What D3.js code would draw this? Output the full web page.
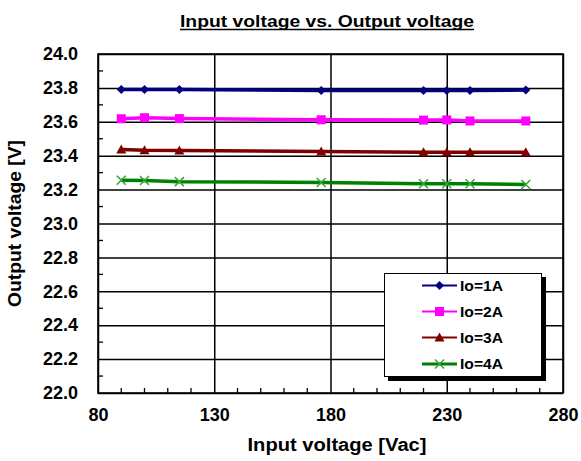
<!DOCTYPE html>
<html><head><meta charset="utf-8">
<script src="https://cdn.jsdelivr.net/npm/d3@7"></script>
<style>
html,body{margin:0;padding:0;background:#fff;}
svg{display:block;font-family:"Liberation Sans",Arial,sans-serif;}
</style></head>
<body>
<svg id="chart" width="581" height="461"></svg>
<script>
const inputVoltage = [90, 100, 115, 176, 220, 230, 240, 264];
const io1A = [23.79, 23.79, 23.79, 23.785, 23.785, 23.785, 23.785, 23.787];
const io2A = [23.618, 23.624, 23.619, 23.612, 23.610, 23.611, 23.605, 23.605];
const io3A = [23.437, 23.432, 23.430, 23.425, 23.421, 23.421, 23.421, 23.420];
const io4A = [23.255, 23.254, 23.247, 23.242, 23.234, 23.234, 23.234, 23.230];
const seriesNames = ["Io=1A", "Io=2A", "Io=3A", "Io=4A"];
const seriesColors = ["#000080", "#ff00ff", "#800000", "#008000"];
const markerColors = ["#000080", "#ff00ff", "#800000", "#3aa33a"];
const markerTypes = ["diamond", "square", "triangle", "x"];
const xTicks = [80, 130, 180, 230, 280];
const yTicks = [22.0, 22.2, 22.4, 22.6, 22.8, 23.0, 23.2, 23.4, 23.6, 23.8, 24.0];
const chartTitle = "Input voltage vs. Output voltage";
const xTitle = "Input voltage [Vac]";
const yTitle = "Output voltage [V]";

const svg = d3.select("#chart");
const W = 581, H = 461;
const m = {left: 98, right: 18, top: 54, bottom: 68};
const x = d3.scaleLinear().domain([80, 280]).range([m.left, W - m.right]);
const y = d3.scaleLinear().domain([22, 24]).range([H - m.bottom, m.top]);
const iw = W - m.left - m.right, ih = H - m.top - m.bottom;

// title
svg.append("text").attr("x", 327).attr("y", 27)
  .attr("text-anchor", "middle").attr("font-size", 17).attr("font-weight", "bold")
  .attr("textLength", 294).attr("lengthAdjust", "spacingAndGlyphs").text(chartTitle);
svg.append("line").attr("x1", 180).attr("x2", 474).attr("y1", 29.5).attr("y2", 29.5)
  .attr("stroke", "#000").attr("stroke-width", 1.3);

// minor ticks
const minorY = d3.range(22.1, 24, 0.2);
svg.append("g").selectAll("line").data(minorY).join("line")
  .attr("x1", m.left).attr("x2", m.left + 5)
  .attr("y1", d => y(d)).attr("y2", d => y(d))
  .attr("stroke", "#000").attr("stroke-width", 1.3);
const minorX = d3.range(90, 280, 10).filter(v => v % 50 !== 30);
svg.append("g").selectAll("line").data(minorX).join("line")
  .attr("x1", d => x(d)).attr("x2", d => x(d))
  .attr("y1", y(22)).attr("y2", y(22) - 5)
  .attr("stroke", "#000").attr("stroke-width", 1.3);

// axes with gridlines
const gy = svg.append("g").attr("transform", `translate(${m.left},0)`)
  .call(d3.axisLeft(y).tickValues(yTicks).tickFormat(d3.format(".1f")).tickSize(-iw).tickPadding(20));
gy.select(".domain").remove();
gy.selectAll(".tick line").attr("stroke", "#000").attr("stroke-width", 1.5);
gy.selectAll(".tick text").attr("font-size", 18).attr("font-weight", "bold")
  .attr("font-family", "Liberation Sans, Arial, sans-serif").attr("fill", "#000");

const gx = svg.append("g").attr("transform", `translate(0,${H - m.bottom})`)
  .call(d3.axisBottom(x).tickValues(xTicks).tickSize(-ih).tickPadding(15));
gx.select(".domain").remove();
gx.selectAll(".tick line").attr("stroke", "#000").attr("stroke-width", 1.5);
gx.selectAll(".tick text").attr("font-size", 18).attr("font-weight", "bold")
  .attr("font-family", "Liberation Sans, Arial, sans-serif").attr("fill", "#000");

// plot border
svg.append("rect").attr("x", m.left).attr("y", m.top).attr("width", iw).attr("height", ih)
  .attr("fill", "none").attr("stroke", "#000").attr("stroke-width", 1.6);

// axis titles
svg.append("text").attr("x", 337).attr("y", 451).attr("text-anchor", "middle")
  .attr("font-size", 18).attr("font-weight", "bold")
  .attr("textLength", 179).attr("lengthAdjust", "spacingAndGlyphs").text(xTitle);
svg.append("text").attr("transform", `translate(21,${(m.top + H - m.bottom) / 2}) rotate(-90)`)
  .attr("text-anchor", "middle").attr("font-size", 18).attr("font-weight", "bold")
  .attr("textLength", 167).attr("lengthAdjust", "spacingAndGlyphs").text(yTitle);

// markers
function drawMarker(g, type, color, cx, cy) {
  if (type === "diamond") {
    g.append("path").attr("d", `M${cx},${cy - 4.5}L${cx + 4.5},${cy}L${cx},${cy + 4.5}L${cx - 4.5},${cy}Z`).attr("fill", color);
  } else if (type === "square") {
    g.append("rect").attr("x", cx - 4.5).attr("y", cy - 4.5).attr("width", 9).attr("height", 9).attr("fill", color);
  } else if (type === "triangle") {
    g.append("path").attr("d", `M${cx},${cy - 5}L${cx + 5},${cy + 4}L${cx - 5},${cy + 4}Z`).attr("fill", color);
  } else {
    g.append("path").attr("d", `M${cx - 4.5},${cy - 4.5}L${cx + 4.5},${cy + 4.5}M${cx - 4.5},${cy + 4.5}L${cx + 4.5},${cy - 4.5}`)
      .attr("stroke", color).attr("stroke-width", 1.5).attr("fill", "none");
  }
}

const allSeries = [io1A, io2A, io3A, io4A];
const line = d3.line().x((d, i) => x(inputVoltage[i])).y(d => y(d));
allSeries.forEach((vals, s) => {
  const g = svg.append("g");
  g.append("path").datum(vals).attr("d", line).attr("fill", "none")
    .attr("stroke", seriesColors[s]).attr("stroke-width", 3.5);
  vals.forEach((v, i) => drawMarker(g, markerTypes[s], markerColors[s], x(inputVoltage[i]), y(v)));
});

// legend
const lg = svg.append("g");
lg.append("rect").attr("x", 388).attr("y", 277).attr("width", 158).attr("height", 104).attr("fill", "#000");
lg.append("rect").attr("x", 384.5).attr("y", 273.5).attr("width", 157).attr("height", 103)
  .attr("fill", "#fff").attr("stroke", "#000").attr("stroke-width", 1);
const rowsY = [285.5, 311.5, 337.5, 364];
seriesNames.forEach((name, s) => {
  const ry = rowsY[s];
  lg.append("line").attr("x1", 422).attr("x2", 457).attr("y1", ry).attr("y2", ry)
    .attr("stroke", seriesColors[s]).attr("stroke-width", s === 3 ? 3 : 2);
  drawMarker(lg, markerTypes[s], markerColors[s], 439.5, ry);
  lg.append("text").attr("x", 460).attr("y", ry + 5).attr("font-size", 14).attr("font-weight", "bold")
    .attr("textLength", 43).attr("lengthAdjust", "spacingAndGlyphs").text(name);
});
</script>
</body></html>
